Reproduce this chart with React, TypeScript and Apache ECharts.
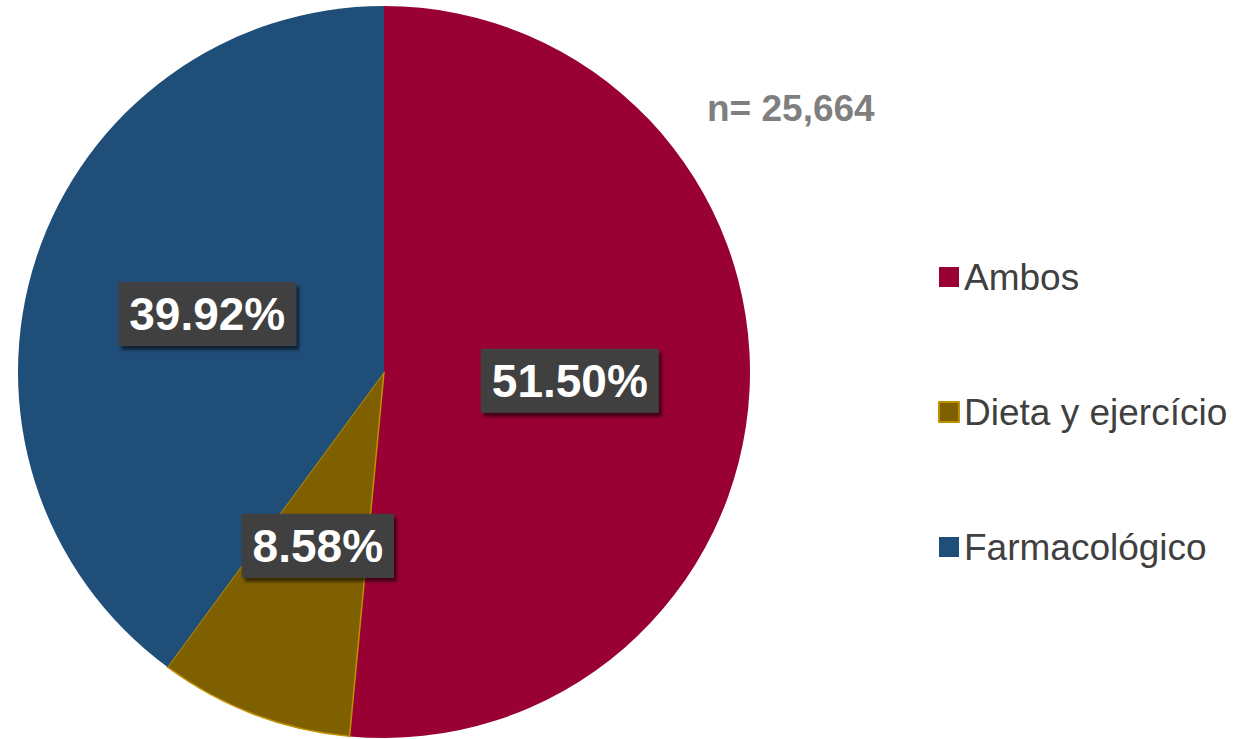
import React, { useEffect, useRef } from "react";
import * as echarts from "echarts";

const categories = ["Ambos", "Dieta y ejercício", "Farmacológico"];
const percentages = [51.5, 8.58, 39.92];
const sliceColors = ["#990033", "#7F6000", "#1F4E79"];
const sliceBorders = ["#990033", "#BF9000", "#1F4E79"];
const sampleNote = "n= 25,664";

export default function App() {
  const ref = useRef<HTMLDivElement | null>(null);
  useEffect(() => {
    if (!ref.current) return;
    const chart = echarts.init(ref.current, null, { renderer: "svg" });
    chart.setOption({
      animation: false,
      backgroundColor: "#ffffff",
      graphic: [
        {
          type: "text",
          left: 707,
          top: 90,
          style: {
            text: sampleNote,
            fill: "#7F7F7F",
            font: "bold 37px 'Liberation Sans', Arial, sans-serif",
          },
        },
      ],
      legend: {
        orient: "vertical",
        left: 933,
        top: 252,
        itemWidth: 20,
        itemHeight: 20,
        itemGap: 95,
        icon: "rect",
        data: categories,
        textStyle: {
          fontSize: 37,
          lineHeight: 40,
          color: "#404040",
          fontFamily: "'Liberation Sans', Arial, sans-serif",
        },
      },
      series: [
        {
          type: "pie",
          center: [384, 372],
          radius: [0, 366],
          startAngle: 90,
          clockwise: true,
          avoidLabelOverlap: false,
          label: {
            show: true,
            position: "inside",
            formatter: (p: any) => Number(p.value).toFixed(2) + "%",
            color: "#ffffff",
            fontSize: 46,
            fontWeight: "bold",
            fontFamily: "'Liberation Sans', Arial, sans-serif",
            lineHeight: 52,
            backgroundColor: "#404040",
            padding: [6, 11, 6, 11],
            shadowColor: "rgba(0,0,0,0.55)",
            shadowBlur: 3,
            shadowOffsetX: 3,
            shadowOffsetY: 4,
          },
          labelLine: { show: false },
          emphasis: { disabled: true },
          data: categories.map((name, i) => ({
            name,
            value: percentages[i],
            itemStyle: {
              color: sliceColors[i],
              borderColor: sliceBorders[i],
              borderWidth: i === 1 ? 1.5 : 0,
            },
          })),
        },
      ],
    });
    return () => chart.dispose();
  }, []);
  return (
    <div
      ref={ref}
      style={{ position: "absolute", left: 0, top: 0, width: 1233, height: 739 }}
    />
  );
}
